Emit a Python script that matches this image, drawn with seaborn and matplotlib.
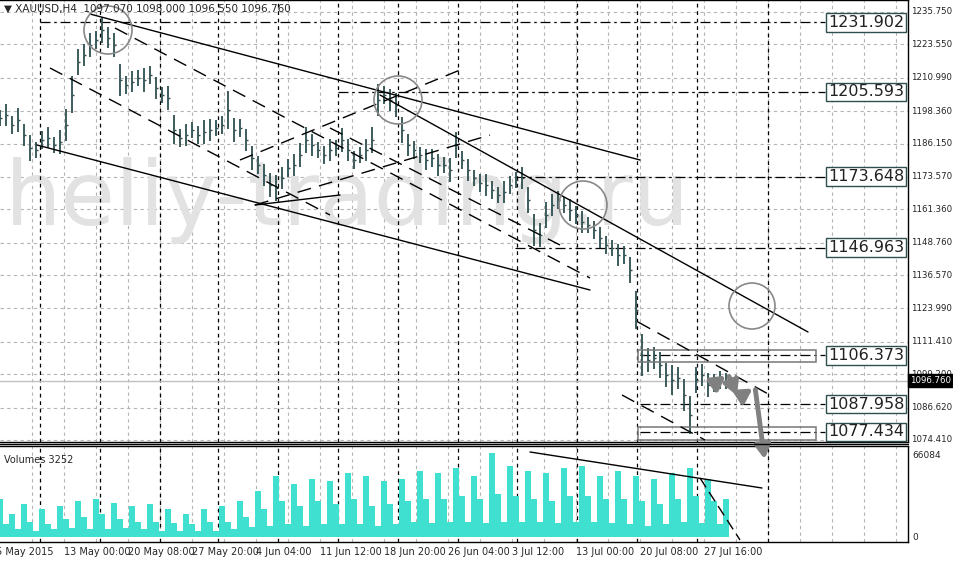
import matplotlib
matplotlib.use("Agg")
import matplotlib.pyplot as plt
import seaborn as sns
import numpy as np
import pandas as pd
from matplotlib.patches import Ellipse, Rectangle

sns.set_style("white")
plt.rcParams['font.family'] = ['DejaVu Sans']

# ---- data ----
closes = [1195.8,1196.9,1193.1,1195.0,1189.4,1184.5,1183.7,1187.5,1188.3,1185.6,1186.7,1193.1,1204.5,1216.9,1219.5,
          1223.3,1225.2,1229.0,1226.0,1223.3,1210.1,1208.2,1209.4,1210.9,1210.1,1212.0,1207.1,1204.5,1203.3,1191.3,
          1188.3,1189.4,1191.3,1189.4,1190.5,1191.3,1192.0,1193.1,1198.8,1191.3,1192.0,1187.5,1180.7,1178.1,1174.3,
          1170.5,1169.4,1173.2,1176.9,1178.1,1181.8,1187.5,1185.6,1183.7,1181.8,1183.7,1184.5,1187.5,1183.7,1180.0,
          1181.8,1183.7,1187.5,1202.6,1204.5,1202.6,1200.7,1191.3,1185.6,1183.7,1181.8,1180.0,1180.7,1178.1,1178.1,
          1176.2,1185.6,1180.0,1176.2,1173.2,1171.3,1170.5,1168.6,1166.8,1167.9,1170.5,1172.4,1173.2,1164.9,1153.6,
          1151.7,1159.2,1163.0,1164.9,1163.0,1161.1,1159.2,1156.6,1155.4,1153.6,1150.6,1147.9,1146.8,1144.1,1144.1,
          1138.5,1123.4,1106.4,1104.6,1105.3,1102.7,1098.9,1097.0,1097.8,1091.4,1083.8,1097.0,1098.9,1095.2,1095.9,
          1097.0,1096.8]
ranges = [6,8,7,9,8,10,6,7,8,6,9,12,14,10,8,9,7,10,8,9,12,7,8,6,9,7,8,6,9,11,
          7,8,6,7,9,8,6,7,14,9,7,8,9,7,8,9,10,8,7,8,9,10,8,6,7,8,6,9,8,7,
          6,8,10,12,7,8,9,10,8,7,6,8,7,8,6,9,10,7,8,6,7,8,7,6,8,7,6,8,10,12,
          9,10,8,7,6,8,7,8,6,7,8,7,6,8,7,10,14,16,9,8,10,9,11,8,12,14,10,8,9,7,
          7,6]
volumes = [30,10,18,6,26,12,5,22,10,6,24,14,7,28,16,6,30,18,6,27,14,7,24,12,6,26,12,5,22,11,
           5,18,10,5,22,12,5,24,12,6,28,16,8,36,22,9,48,28,10,42,24,9,46,28,10,44,26,10,50,30,
           10,48,24,9,44,26,10,46,28,12,52,30,11,50,30,12,54,32,12,48,30,11,66,34,12,56,32,12,52,30,
           12,50,28,11,54,32,12,56,32,12,48,30,11,52,30,10,48,28,9,46,26,10,50,30,12,54,32,11,46,28,
           10,30]
volumes = [v * 1000 for v in volumes]
price_ticks = [1235.750,1223.550,1210.990,1198.360,1186.150,1173.570,1161.360,1148.760,
               1136.570,1123.990,1111.410,1099.200,1086.620,1074.410]
levels = [1231.902,1205.593,1173.648,1146.963,1106.373,1087.958,1077.434]
level_start_px = [40,338,515,515,640,640,640]
date_labels = ["5 May 2015","13 May 00:00","20 May 08:00","27 May 20:00","4 Jun 04:00","11 Jun 12:00",
               "18 Jun 20:00","26 Jun 04:00","3 Jul 12:00","13 Jul 00:00","20 Jul 08:00","27 Jul 16:00"]

n = len(closes)
idx = np.arange(n)
W, H = 954, 563
STEP = 6.0  # pixels per bar
PMAX, PMIN = 1240.27, 1073.64

fig = plt.figure(figsize=(W/100, H/100), dpi=100)
fig.patch.set_facecolor("white")
axv = fig.add_axes([0, 1-542/H, 908/W, 96/H])
ax = fig.add_axes([0, 1-442/H, 908/W, 442/H])
ax.set_xlim(0, 908/STEP); axv.set_xlim(0, 908/STEP)
ax.set_ylim(PMIN, PMAX)
axv.set_ylim(-5/84*66084, 91/84*66084)

def px(x, y):
    return x/STEP, PMAX - y*(PMAX-PMIN)/442

grey = "#b4b4b4"
for a in (ax, axv):
    for gx in np.arange(32, 908, 32):
        a.axvline(gx/STEP, color=grey, lw=0.8, ls=(0, (3, 3)), zorder=0)
    for gx in [40,100,160,218,278,338,398,458,517,577,637,697,768]:
        a.axvline(gx/STEP, color="black", lw=0.9, ls=(0, (3, 3)), zorder=1)
for t in price_ticks:
    ax.axhline(t, color=grey, lw=0.8, ls=(0, (3, 3)), zorder=0)

# watermark
ax.text(*px(5, 200), "heliy-trading.ru", fontsize=64, color="#e2e2e2", va="center", ha="left", zorder=0.5)

# OHLC bars
c = np.array(closes); r = np.array(ranges)
hi = c + r*0.5; lo = c - r*0.5
ax.vlines(idx, lo, hi, color="#2f4f4f", lw=1.3, zorder=3)
ax.hlines(c, idx, idx+0.35, color="#2f4f4f", lw=1.0, zorder=3)

# horizontal levels with boxed labels
for lv, xs in zip(levels, level_start_px):
    ax.plot([xs/STEP, 825/STEP], [lv, lv], color="black", lw=0.9, ls=(0, (8, 3, 2, 3)), zorder=2)
    ax.text(828/STEP, lv, f"{lv:.3f}", fontsize=11.5, va="center", ha="left", color="#222222",
            bbox=dict(boxstyle="square,pad=0.12", fc="white", ec="#2f4f4f", lw=1), zorder=6)
for (y0, y1) in [(350, 362), (427, 440)]:
    x0, p0 = px(638, y1); x1, p1 = px(816, y0)
    ax.add_patch(Rectangle((x0, p0), x1-x0, p1-p0, fill=False, ec="#777777", lw=1.1, zorder=4))

# trend lines
solid = [((90,14),(640,160)), ((380,95),(808,332)), ((37,145),(590,290)), ((255,205),(340,195))]
dashed = [((50,68),(330,215)), ((115,28),(590,278)), ((240,160),(460,70)), ((255,205),(490,135)),
          ((330,128),(560,245)), ((638,322),(770,395)), ((622,395),(705,440))]
for (a0, a1) in solid:
    p0 = px(*a0); p1 = px(*a1)
    ax.plot([p0[0], p1[0]], [p0[1], p1[1]], color="black", lw=1.0, zorder=4)
for (a0, a1) in dashed:
    p0 = px(*a0); p1 = px(*a1)
    ax.plot([p0[0], p1[0]], [p0[1], p1[1]], color="black", lw=1.0, ls=(0, (10, 6)), zorder=4)

# circles
for (cx, cy, rw) in [(108, 30, 24), (398, 100, 24), (583, 205, 24), (752, 306, 23)]:
    e0 = px(cx, cy); e1 = px(cx+rw, cy+rw)
    ax.add_patch(Ellipse(e0, 2*(e1[0]-e0[0]), 2*abs(e1[1]-e0[1]), fill=False, ec="#888888", lw=1.2, zorder=5))

# forecast arrow
path = [(717,382),(728,374),(738,398),(755,387),(765,462)]
for (a0, a1) in zip(path[:-1], path[1:]):
    p0 = px(*a0); p1 = px(*a1)
    an = ax.annotate("", xy=p1, xytext=p0, annotation_clip=False,
                     arrowprops=dict(arrowstyle="-|>,head_width=0.45,head_length=0.8", color="#808080", lw=3.5),
                     zorder=7)
    an.arrow_patch.set_clip_on(False)

# current price line
ax.axhline(closes[-1], color="#c0c0c0", lw=1, zorder=1)

# price axis
ax.set_yticks([])
ax.set_xticks([])
for t in price_ticks:
    fig.text(911/W, ax.transData.transform((0, t))[1]/H, f"{t:.3f}", fontsize=6.2, va="center", ha="left", color="#222222")
fig.text(910/W, ax.transData.transform((0, closes[-1]))[1]/H, "1096.760", fontsize=6.2, va="center", ha="left",
         color="white", bbox=dict(boxstyle="square,pad=0.2", fc="black", ec="black"))
fig.text(4/W, 1-9/H, "▼ XAUUSD,H4  1097.070 1098.000 1096.550 1096.760", fontsize=7.5, va="center", ha="left")

# volumes
vdf = pd.DataFrame({"i": idx, "v": volumes})
sns.barplot(data=vdf, x="i", y="v", native_scale=True, color="#40e0d0", width=0.85,
            saturation=1, ax=axv, zorder=3, linewidth=0)
axv.set_xlim(0, 908/STEP)
axv.set_xlabel(""); axv.set_ylabel("")
axv.set_xticks([]); axv.set_yticks([])
axv.text(4/STEP, 60500, "Volumes 3252", fontsize=7, va="center")
fig.text(912/W, 1-455/H, "66084", fontsize=6.5, va="center")
fig.text(912/W, 1-538/H, "0", fontsize=6.5, va="center")
def vpx(x, y):
    return x/STEP, (537-y)/84*66084
for (a0, a1, ls) in [((530,452),(762,488),"-"), ((700,478),(740,540),(0,(8,4)))]:
    p0 = vpx(*a0); p1 = vpx(*a1)
    axv.plot([p0[0], p1[0]], [p0[1], p1[1]], color="black", lw=1.0, ls=ls, zorder=4)

for a in (ax, axv):
    for s in a.spines.values():
        s.set_visible(True); s.set_color("black"); s.set_linewidth(1)
    a.spines["left"].set_visible(False)
ax.set_facecolor("white")
axv.set_facecolor("white")
fig.add_artist(plt.Line2D([0, 908/W], [1-444/H, 1-444/H], color="black", lw=1))

for k, lab in enumerate(date_labels):
    x = 0 if k == 0 else 64*k
    fig.text(x/W + (0 if k else -0.004), 1-552/H, lab, fontsize=7, va="center", ha="left")

fig.savefig("out.png", dpi=100, facecolor="white")
